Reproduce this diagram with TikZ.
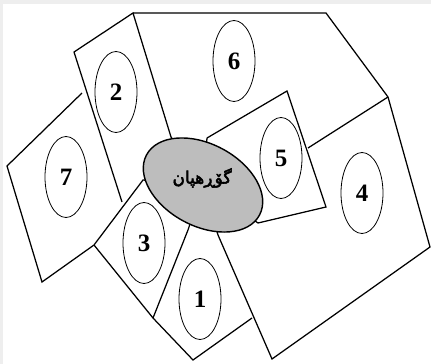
\documentclass[tikz,border=0pt]{standalone}
\usepackage{fontspec}
\setmainfont{Liberation Serif}
\newfontfamily\arabicfont[Script=Arabic,FakeBold=3]{DejaVu Sans}
\TeXXeTstate=1
\usetikzlibrary{shapes.geometric}
\definecolor{framegray}{HTML}{EEEEEE}
\definecolor{centergray}{HTML}{BDBDBD}
\tikzset{
  edge/.style={line width=1.25pt, line join=miter},
  zone/.style={draw, ellipse, line width=0.8pt, fill=white, minimum width=42pt, minimum height=81pt, inner sep=0pt, font=\bfseries\fontsize{25}{25}\selectfont},
}
\begin{document}
\begin{tikzpicture}[x=1pt,y=-1pt]
\useasboundingbox (0,0) rectangle (431,364);
\fill[framegray] (0,0) rectangle (431,364);
\fill[white] (3,4) rectangle (431,364);
% corner points
\coordinate (c) at (203,185);
\coordinate (t1) at (133,13);
\coordinate (t2) at (326,13);
\coordinate (t3) at (388,97);
\coordinate (r4) at (430,247);
\coordinate (b4) at (272,359);
\coordinate (m4) at (308,148);
\coordinate (p5a) at (287,91);
\coordinate (p5b) at (326,207);
\coordinate (l2) at (74,52);
\coordinate (b2) at (122,202);
\coordinate (t7) at (82,93);
\coordinate (l7) at (7,166);
\coordinate (b7) at (42,282);
\coordinate (k3) at (94,245);
\coordinate (k1) at (153,318);
\coordinate (b1) at (193,360);
\coordinate (r1) at (252,318);
\coordinate (e5) at (258,223);
\coordinate (e4) at (218,235);
\coordinate (e6) at (171,137);
\coordinate (e5t) at (207,138);
\coordinate (e3) at (143,180);
\coordinate (e1) at (188,230);
% boundaries
\draw[edge] (t1) -- (t2) -- (t3) -- (r4) -- (b4) -- (e4) -- (c);
\draw[edge] (t3) -- (m4);
\draw[edge] (e5t) -- (p5a) -- (p5b) -- (e5) -- (c);
\draw[edge] (e5t) -- (c);
\draw[edge] (c) -- (e6) -- (t1) -- (l2) -- (b2);
\draw[edge] (t7) -- (l7) -- (b7) -- (k3) -- (e3) -- (c);
\draw[edge] (k3) -- (k1) -- (b1) -- (r1);
\draw[edge] (k1) -- (e1) -- (c);
% central square
\draw[line width=1.4pt, fill=centergray] (c) ellipse [x radius=64pt, y radius=41pt, rotate=-28];
\node (square) at (202,178) {\arabicfont\fontsize{17}{17}\selectfont\beginR گۆڕهپان\endR};
% zones
\node[zone] (z6) at (234,61) {6};
\node[zone] (z2) at (116,92) {2};
\node[zone] (z7) at (66,177) {7};
\node[zone] (z5) at (281,158) {5};
\node[zone] (z4) at (362,193) {4};
\node[zone] (z3) at (144,243) {3};
\node[zone] (z1) at (200,299) {1};
\end{tikzpicture}
\end{document}
